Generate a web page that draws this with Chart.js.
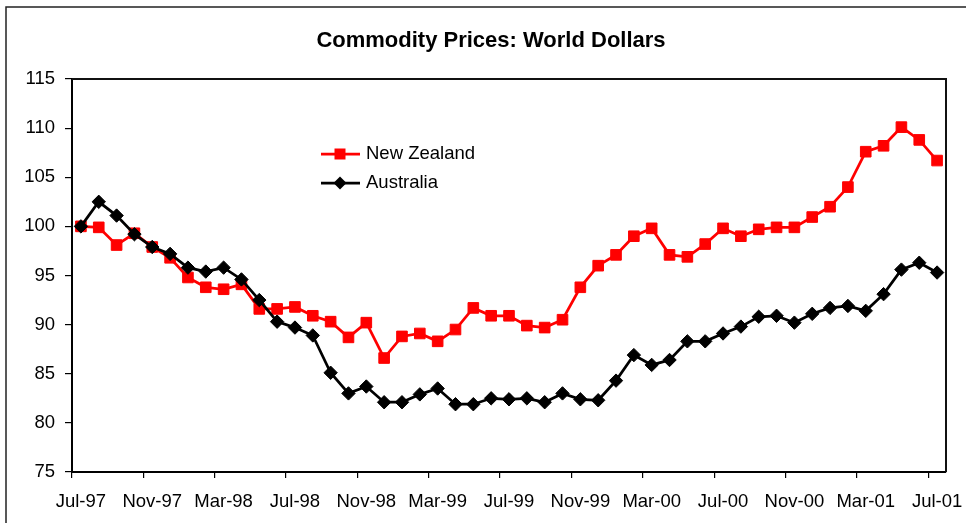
<!DOCTYPE html>
<html>
<head>
<meta charset="utf-8">
<script src="https://cdn.jsdelivr.net/npm/chart.js@4.4.0/dist/chart.umd.min.js"></script>
<style>
html,body{margin:0;padding:0;background:#fff;overflow:hidden}
#wrap{width:966px;height:523px;position:relative}
</style>
</head>
<body>
<div id="wrap"><canvas id="c" width="966" height="523"></canvas></div>
<script>
const chartTitle = 'Commodity Prices: World Dollars';
const months = [
  'Jul-97','Aug-97','Sep-97','Oct-97','Nov-97','Dec-97','Jan-98','Feb-98','Mar-98','Apr-98','May-98','Jun-98',
  'Jul-98','Aug-98','Sep-98','Oct-98','Nov-98','Dec-98','Jan-99','Feb-99','Mar-99','Apr-99','May-99','Jun-99',
  'Jul-99','Aug-99','Sep-99','Oct-99','Nov-99','Dec-99','Jan-00','Feb-00','Mar-00','Apr-00','May-00','Jun-00',
  'Jul-00','Aug-00','Sep-00','Oct-00','Nov-00','Dec-00','Jan-01','Feb-01','Mar-01','Apr-01','May-01','Jun-01',
  'Jul-01'
];
const newZealand = [
  100.0, 99.9, 98.1, 99.3, 97.9, 96.8, 94.8, 93.8, 93.6, 94.1, 91.6, 91.6,
  91.8, 90.9, 90.3, 88.7, 90.2, 86.6, 88.8, 89.1, 88.3, 89.5, 91.7, 90.9,
  90.9, 89.9, 89.7, 90.5, 93.8, 96.0, 97.1, 99.0, 99.8, 97.1, 96.9, 98.2,
  99.8, 99.0, 99.7, 99.9, 99.9, 100.95, 102.0, 104.0, 107.6, 108.2, 110.1, 108.8,
  106.7
];
const australia = [
  100.0, 102.5, 101.1, 99.2, 97.9, 97.2, 95.8, 95.4, 95.8, 94.6, 92.5, 90.3,
  89.7, 88.9, 85.1, 83.0, 83.7, 82.1, 82.1, 82.9, 83.5, 81.9, 81.9, 82.5,
  82.4, 82.5, 82.1, 83.0, 82.4, 82.3, 84.3, 86.9, 85.9, 86.4, 88.3, 88.3,
  89.1, 89.8, 90.8, 90.9, 90.2, 91.1, 91.7, 91.9, 91.4, 93.1, 95.6, 96.3,
  95.3
];
const yMin = 75, yMax = 115, yStep = 5;
const labelEvery = 4;

const FONT = "'Liberation Sans', Arial, sans-serif";

const decorPlugin = {
  id: 'decor',
  beforeDraw(chart) {
    const ctx = chart.ctx;
    ctx.save();
    ctx.fillStyle = '#fff';
    ctx.fillRect(0, 0, chart.width, chart.height);
    ctx.strokeStyle = '#222';
    ctx.lineWidth = 1.5;
    ctx.beginPath();
    ctx.moveTo(6, chart.height);
    ctx.lineTo(6, 7);
    ctx.lineTo(chart.width, 7);
    ctx.stroke();
    ctx.restore();
  },
  afterDraw(chart) {
    const ctx = chart.ctx;
    const a = chart.chartArea;
    ctx.save();
    // plot area top & right border
    ctx.strokeStyle = '#111';
    ctx.lineWidth = 2;
    ctx.beginPath();
    ctx.moveTo(a.left, a.top);
    ctx.lineTo(a.right, a.top);
    ctx.lineTo(a.right, a.bottom);
    ctx.stroke();
    // title
    ctx.fillStyle = '#000';
    ctx.font = 'bold 22px ' + FONT;
    ctx.textAlign = 'center';
    ctx.textBaseline = 'alphabetic';
    ctx.fillText(chartTitle, 491, 47);
    // legend
    const items = [
      {ds: chart.data.datasets[0], y: 154},
      {ds: chart.data.datasets[1], y: 183}
    ];
    items.forEach(it => {
      const ds = it.ds;
      ctx.strokeStyle = ds.borderColor;
      ctx.lineWidth = ds.borderWidth;
      ctx.beginPath();
      ctx.moveTo(321, it.y);
      ctx.lineTo(360, it.y);
      ctx.stroke();
      ctx.fillStyle = ds.pointBackgroundColor;
      ctx.beginPath();
      if (ds.pointStyle === 'rect') {
        ctx.rect(340 - 5.5, it.y - 5.5, 11, 11);
      } else {
        ctx.moveTo(340 - 6.5, it.y);
        ctx.lineTo(340, it.y - 6.5);
        ctx.lineTo(340 + 6.5, it.y);
        ctx.lineTo(340, it.y + 6.5);
        ctx.closePath();
      }
      ctx.fill();
      ctx.fillStyle = '#000';
      ctx.font = '18.5px ' + FONT;
      ctx.textAlign = 'left';
      ctx.textBaseline = 'middle';
      ctx.fillText(ds.label, 366, it.y);
    });
    ctx.restore();
  }
};

const tickCol = (c) => (c.index !== undefined && c.index % labelEvery === 0) ? '#000' : 'rgba(0,0,0,0)';

new Chart(document.getElementById('c'), {
  type: 'line',
  data: {
    labels: months,
    datasets: [
      {
        label: 'New Zealand', data: newZealand, order: 2,
        borderColor: '#FF0000', backgroundColor: '#FF0000', borderWidth: 2.75,
        pointStyle: 'rect', pointRadius: 7.5, pointBorderWidth: 1,
        pointBackgroundColor: '#FF0000', pointBorderColor: '#FF0000', tension: 0
      },
      {
        label: 'Australia', data: australia, order: 1,
        borderColor: '#000000', backgroundColor: '#000000', borderWidth: 2.75,
        pointStyle: 'rectRot', pointRadius: 6.7, pointBorderWidth: 1,
        pointBackgroundColor: '#000000', pointBorderColor: '#000000', tension: 0
      }
    ]
  },
  options: {
    responsive: false, animation: false, devicePixelRatio: 1,
    layout: {padding: {top: 79, left: 0, right: 20, bottom: 0}},
    plugins: {legend: {display: false}, title: {display: false}, tooltip: {enabled: false}},
    scales: {
      x: {
        type: 'category', offset: true,
        grid: {offset: true, drawOnChartArea: false, drawTicks: true, tickLength: 6, color: tickCol, tickColor: tickCol, lineWidth: 1.2},
        border: {display: true, color: '#000', width: 2},
        ticks: {
          autoSkip: false, maxRotation: 0, minRotation: 0, padding: 13, color: '#000',
          font: {family: FONT, size: 18.5},
          callback: function (v, i) { return i % labelEvery === 0 ? months[i] : ''; }
        },
        afterFit: (s) => { s.height = 51; s.paddingLeft = 0; s.paddingRight = 0; }
      },
      y: {
        min: yMin, max: yMax,
        grid: {drawOnChartArea: false, drawTicks: true, tickLength: 7, color: '#000', lineWidth: 1.2},
        border: {display: true, color: '#000', width: 2},
        ticks: {stepSize: yStep, padding: 10, color: '#000', font: {family: FONT, size: 18.5}},
        afterFit: (s) => { s.width = 72; s.paddingTop = 0; s.paddingBottom = 0; }
      }
    }
  },
  plugins: [decorPlugin]
});
</script>
</body>
</html>
